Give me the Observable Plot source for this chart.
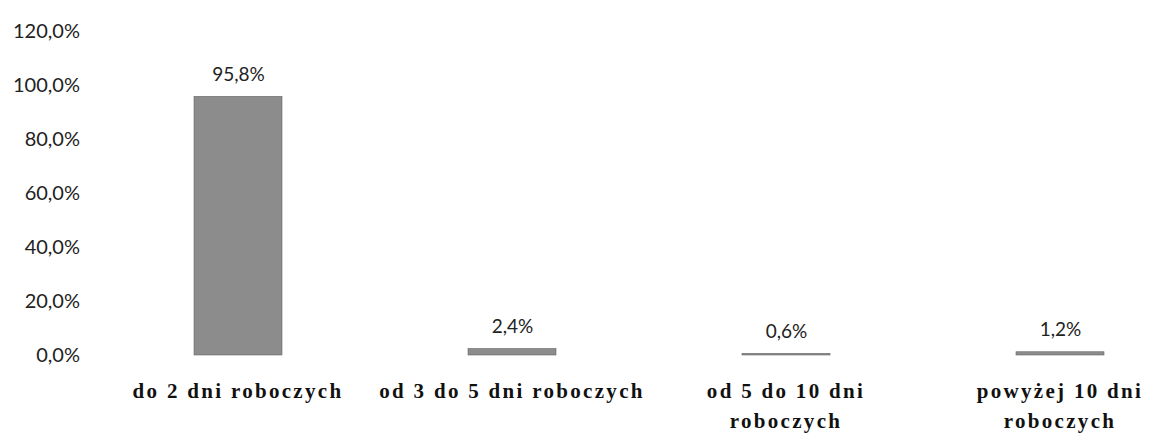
<!DOCTYPE html>
<html><head><meta charset="utf-8">
<script src="https://cdn.jsdelivr.net/npm/d3@7"></script>
<script src="https://cdn.jsdelivr.net/npm/@observablehq/plot@0.6"></script>
<style>
body{margin:0;background:#fff;}
#chart svg{display:block;}
</style>
</head><body><div id="chart"></div>
<script>
const categories = ["do 2 dni roboczych","od 3 do 5 dni roboczych","od 5 do 10 dni roboczych","powyżej 10 dni roboczych"];
const categoryLabels = ["do 2 dni roboczych","od 3 do 5 dni roboczych","od 5 do 10 dni\nroboczych","powyżej 10 dni\nroboczych"];
const values = [95.8, 2.4, 0.6, 1.2];
const yTicks = [0, 20, 40, 60, 80, 100, 120];

const data = categories.map((c, i) => ({cat: c, label: categoryLabels[i], value: values[i]}));
const fmt = v => v.toFixed(1).replace(".", ",") + "%";

const chart = Plot.plot({
  width: 1149,
  height: 435,
  marginTop: 31,
  marginBottom: 80,
  marginLeft: 100,
  marginRight: 0,
  style: {fontFamily: "Lato, sans-serif", background: "#fff"},
  x: {domain: categories, range: [101, 1197], paddingInner: 0.68, paddingOuter: 0.34, axis: null},
  y: {domain: [0, 120], axis: null},
  marks: [
    Plot.barY(data, {x: "cat", y: "value", fill: "#8c8c8c", stroke: "#666", strokeWidth: 0.6}),
    Plot.text(data, {x: "cat", y: "value", text: d => fmt(d.value), dy: -22, fontSize: 19, fill: "#222"})
  ]
});

const svg = d3.select(chart);
const y = chart.scale("y");
const gy = svg.append("g").attr("font-family","Lato, sans-serif").attr("font-size",20).attr("fill","#222").attr("text-anchor","end");
yTicks.forEach(t => gy.append("text").attr("x", 80).attr("y", y.apply(t)).attr("dy","0.35em").text(fmt(t)));

const x = chart.scale("x");
const gx = svg.append("g").attr("font-family","'Liberation Serif', 'Times New Roman', serif").attr("font-weight","bold").attr("font-size",21).attr("fill","#111").attr("text-anchor","middle").attr("letter-spacing","2.3px");
data.forEach(d => {
  const cx = x.apply(d.cat) + x.bandwidth/2;
  d.label.split("\n").forEach((line, j) => {
    gx.append("text").attr("x", cx).attr("y", 398 + j*30).text(line);
  });
});

document.getElementById("chart").appendChild(chart);
</script>
</body></html>
